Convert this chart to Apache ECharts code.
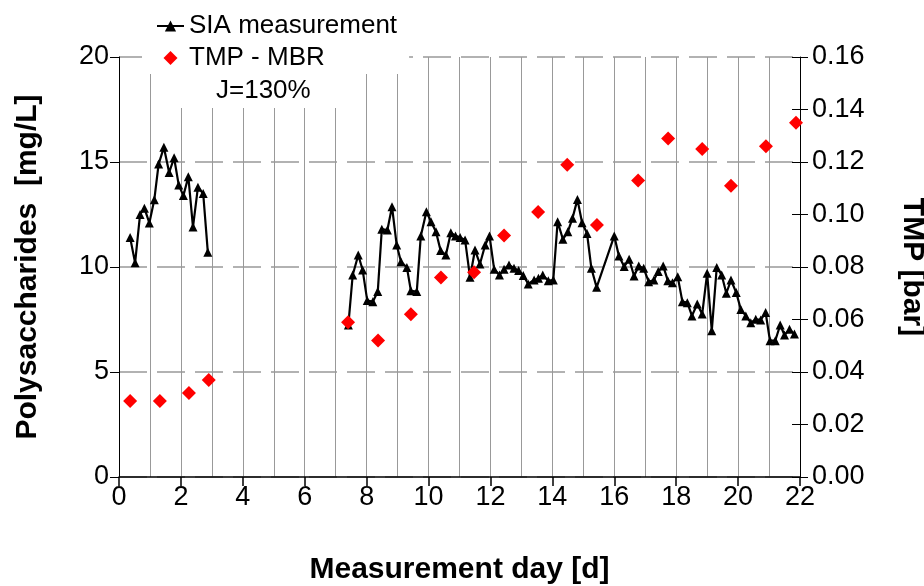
<!DOCTYPE html>
<html>
<head>
<meta charset="utf-8">
<script src="https://cdn.jsdelivr.net/npm/echarts@6/dist/echarts.min.js"></script>
<style>
html,body{margin:0;padding:0;background:#fff;}
#chart{width:924px;height:586px;}
</style>
</head>
<body>
<div id="chart"></div>
<script>
// SIA measurement, first run
const siaDaysA = [0.36,0.52,0.68,0.82,0.98,1.14,1.28,1.45,1.62,1.78,1.93,2.08,2.24,2.39,2.55,2.72,2.87];
const siaValsA = [11.4,10.2,12.5,12.8,12.1,13.2,14.9,15.7,14.5,15.2,13.9,13.4,14.3,11.9,13.8,13.5,10.7];
// SIA measurement, second run
const siaDaysB = [7.41,7.55,7.73,7.87,8.02,8.2,8.36,8.49,8.67,8.82,8.97,9.11,9.3,9.43,9.62,9.75,9.93,10.08,10.24,10.39,
  10.56,10.72,10.87,11.02,11.18,11.34,11.5,11.66,11.83,11.97,12.12,12.29,12.44,12.6,12.76,12.91,13.06,13.22,13.41,13.55,
  13.69,13.87,14.03,14.17,14.34,14.5,14.65,14.81,14.96,15.12,15.26,15.43,16.0,16.15,16.32,16.48,16.64,16.79,16.95,17.11,
  17.28,17.42,17.58,17.73,17.88,18.05,18.2,18.36,18.51,18.68,18.84,19.0,19.15,19.31,19.47,19.62,19.77,19.94,20.09,20.25,
  20.41,20.57,20.73,20.89,21.03,21.2,21.36,21.5,21.66,21.82];
const siaValsB = [7.24,9.62,10.57,9.86,8.4,8.35,8.83,11.8,11.76,12.87,11.05,10.25,9.98,8.87,8.83,11.48,12.63,12.16,11.68,10.78,
  10.57,11.63,11.48,11.41,11.29,9.51,10.81,10.14,11.05,11.48,9.89,9.62,9.89,10.1,9.94,9.83,9.6,9.19,9.38,9.46,
  9.62,9.35,9.38,12.16,11.32,11.68,12.32,13.22,12.11,11.6,9.94,9.03,11.48,10.52,10.02,10.37,9.57,10.05,9.94,9.3,
  9.38,9.78,10.05,9.35,9.25,9.54,8.35,8.3,7.67,8.24,7.76,9.7,6.97,9.98,9.62,8.75,9.38,8.78,7.98,7.67,
  7.35,7.51,7.48,7.83,6.49,6.49,7.24,6.76,7.03,6.81];
// TMP - MBR
const tmpDays = [0.36,1.32,2.26,2.9,7.4,8.37,9.43,10.4,11.47,12.44,13.54,14.48,15.44,16.77,17.74,18.84,19.77,20.9,21.87];
const tmpVals = [0.029,0.029,0.032,0.037,0.059,0.052,0.062,0.076,0.078,0.092,0.101,0.119,0.096,0.113,0.129,0.125,0.111,0.126,0.135];

const names = ['SIA measurement','TMP - MBR'];
const noteText = 'J=130%';
const xTitle = 'Measurement day [d]';
const yLeftTitle = 'Polysaccharides  [mg/L]';
const yRightTitle = 'TMP [bar]';

const zip = (a,b) => a.map((v,i)=>[v,b[i]]);
const FONT = '"Liberation Sans", Arial, sans-serif';
const lineStyle = {color:'#000', width:2.2};

const chart = echarts.init(document.getElementById('chart'), null, {renderer:'canvas'});
chart.setOption({
  animation:false,
  backgroundColor:'#fff',
  textStyle:{fontFamily:FONT},
  title:{
    text:noteText, left:162, top:74,
    padding:[4,54,4,54],
    backgroundColor:'#fff',
    textStyle:{fontFamily:FONT,fontSize:26,fontWeight:'normal',color:'#000',lineHeight:26}
  },
  legend:{
    data:[{name:names[0]},{name:names[1],icon:'path://M0,7L7,0L14,7L7,14Z'}],
    orient:'vertical', left:142, top:0,
    padding:[13,12,3,14], itemGap:6, itemWidth:27, itemHeight:14,
    symbolKeepAspect:true,
    backgroundColor:'#fff',
    textStyle:{fontFamily:FONT,fontSize:26,color:'#000',lineHeight:26}
  },
  grid:{left:119,right:124,top:57,bottom:109,containLabel:false,outerBoundsMode:'none'},
  xAxis:{
    type:'value', min:0, max:22, interval:2,
    name:xTitle, nameLocation:'middle', nameGap:78,
    nameTextStyle:{fontFamily:FONT,fontSize:30,fontWeight:'bold',color:'#000'},
    axisLine:{show:true,onZero:false,lineStyle:{color:'#000',width:1.5}},
    axisTick:{show:true,length:9,lineStyle:{color:'#000',width:1.5}},
    axisLabel:{fontFamily:FONT,fontSize:27,color:'#000',margin:7},
    splitLine:{show:true,lineStyle:{color:'#999',width:1}},
    minorTick:{show:false,splitNumber:2},
    minorSplitLine:{show:true,lineStyle:{color:'#999',width:1}}
  },
  yAxis:[{
    type:'value', min:0, max:20, interval:5, position:'left',
    name:yLeftTitle, nameLocation:'middle', nameGap:76, nameRotate:90,
    nameTextStyle:{fontFamily:FONT,fontSize:30,fontWeight:'bold',color:'#000'},
    axisLine:{show:true,lineStyle:{color:'#000',width:1}},
    axisTick:{show:true,length:9,lineStyle:{color:'#000',width:1}},
    axisLabel:{fontFamily:FONT,fontSize:27,color:'#000',margin:10},
    splitLine:{show:true,lineStyle:{color:'#999',width:1.5,type:[28,10]}}
  },{
    type:'value', min:0, max:0.16, interval:0.02, position:'right',
    name:yRightTitle, nameLocation:'middle', nameGap:97, nameRotate:-90,
    nameTextStyle:{fontFamily:FONT,fontSize:30,fontWeight:'bold',color:'#000'},
    axisLine:{show:true,lineStyle:{color:'#000',width:1}},
    axisTick:{show:true,length:8,lineStyle:{color:'#000',width:1}},
    axisLabel:{fontFamily:FONT,fontSize:27,color:'#000',margin:12,formatter:v=>v.toFixed(2)},
    splitLine:{show:false}
  },{
    type:'value', min:0, max:0.16, interval:0.02, position:'right',
    axisLine:{show:false},
    axisTick:{show:true,inside:true,length:8,lineStyle:{color:'#000',width:1}},
    axisLabel:{show:false},
    splitLine:{show:false}
  }],
  series:[{
    name:names[0], type:'line', yAxisIndex:0, data:zip(siaDaysA,siaValsA),
    symbol:'triangle', symbolSize:9, showAllSymbol:true,
    lineStyle:lineStyle, itemStyle:{color:'#000'}, z:3
  },{
    name:names[0], type:'line', yAxisIndex:0, data:zip(siaDaysB,siaValsB),
    symbol:'triangle', symbolSize:9, showAllSymbol:true,
    lineStyle:lineStyle, itemStyle:{color:'#000'}, z:3
  },{
    name:names[1], type:'scatter', yAxisIndex:1, data:zip(tmpDays,tmpVals),
    symbol:'diamond', symbolSize:14,
    itemStyle:{color:'#ff0000',opacity:1}, z:4
  }]
});
</script>
</body>
</html>
